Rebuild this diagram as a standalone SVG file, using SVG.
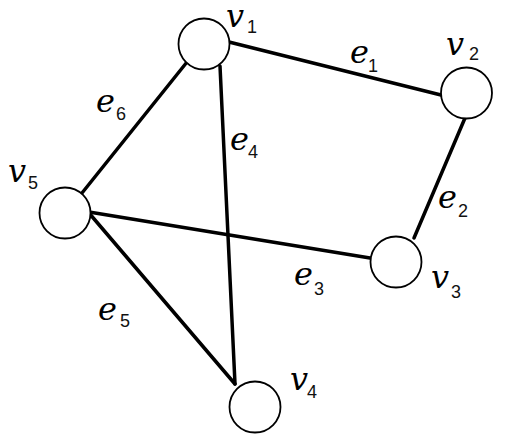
<svg xmlns="http://www.w3.org/2000/svg" width="505" height="442" viewBox="0 0 505 442">
<style>
.edge{stroke:#000;stroke-width:3.5;stroke-linecap:round;fill:none}
.node{fill:#fff;stroke:#000;stroke-width:1.8}
.m{font-family:"DejaVu Serif","Liberation Serif",serif;font-style:italic;font-size:32px;fill:#000}
.s{font-family:"Liberation Sans","DejaVu Sans",sans-serif;font-style:normal;font-size:18px;fill:#111}
</style>
<rect width="505" height="442" fill="#fff"/>
<g id="edges">
<line id="e1" class="edge" x1="229" y1="42" x2="441" y2="95"/>
<line id="e2" class="edge" x1="465" y1="118" x2="414" y2="238"/>
<line id="e3" class="edge" x1="89" y1="212" x2="370" y2="258"/>
<line id="e4" class="edge" x1="220" y1="66" x2="235" y2="384"/>
<line id="e5" class="edge" x1="89" y1="213" x2="235" y2="384"/>
<line id="e6" class="edge" x1="187" y1="62" x2="82" y2="193"/>
</g>
<g id="edge-labels">
<text class="m" x="350" y="63">e<tspan class="s" x="368" y="72">1</tspan></text>
<text class="m" x="438" y="208">e<tspan class="s" x="458" y="217">2</tspan></text>
<text class="m" x="294" y="285">e<tspan class="s" x="314" y="295">3</tspan></text>
<text class="m" x="230" y="150">e<tspan class="s" x="248" y="158">4</tspan></text>
<text class="m" x="98" y="320">e<tspan class="s" x="120" y="327">5</tspan></text>
<text class="m" x="96" y="112">e<tspan class="s" x="116" y="120">6</tspan></text>
</g>
<g id="v1"><circle class="node" cx="204" cy="44" r="25.5"/><text class="m" x="226" y="27">v<tspan class="s" x="247" y="33">1</tspan></text></g>
<g id="v2"><circle class="node" cx="466.5" cy="93" r="25.5"/><text class="m" x="446" y="55">v<tspan class="s" x="469" y="60">2</tspan></text></g>
<g id="v3"><circle class="node" cx="396" cy="262" r="25.5"/><text class="m" x="431" y="288">v<tspan class="s" x="451" y="298">3</tspan></text></g>
<g id="v4"><circle class="node" cx="255" cy="407" r="25.5"/><text class="m" x="290" y="390">v<tspan class="s" x="307" y="398">4</tspan></text></g>
<g id="v5"><circle class="node" cx="65" cy="213" r="25.5"/><text class="m" x="8" y="182">v<tspan class="s" x="28" y="189">5</tspan></text></g>
</svg>
